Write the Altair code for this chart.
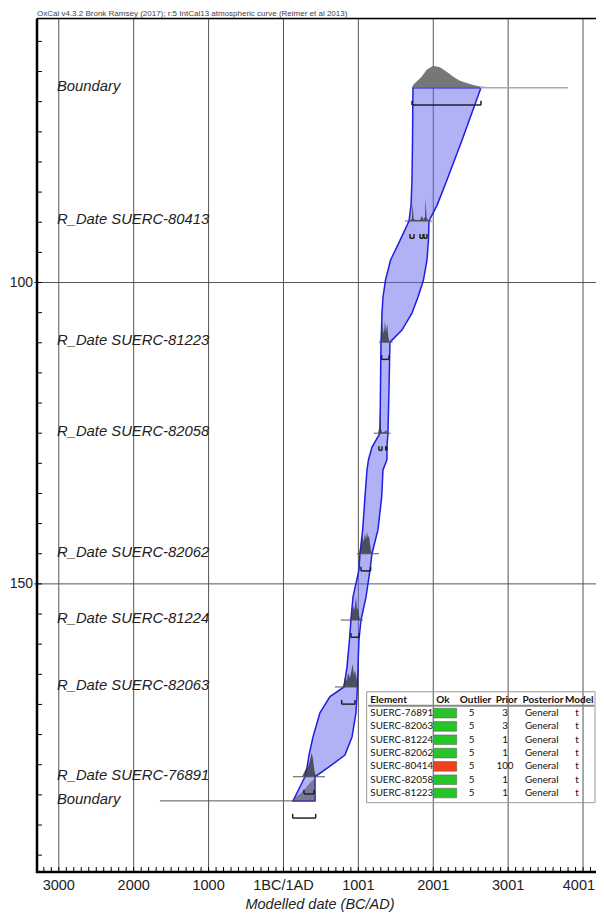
import altair as alt
import pandas as pd

# ---------------- data ----------------
title_text = "OxCal v4.3.2 Bronk Ramsey (2017); r:5 IntCal13 atmospheric curve (Reimer et al 2013)"
x_title = "Modelled date (BC/AD)"

item_labels = ["Boundary", "R_Date SUERC-80413", "R_Date SUERC-81223", "R_Date SUERC-82058",
               "R_Date SUERC-82062", "R_Date SUERC-81224", "R_Date SUERC-82063",
               "R_Date SUERC-76891", "Boundary"]
item_pos = [67.7, 89.8, 109.9, 125.0, 145.0, 156.0, 167.1, 182.0, 186.0]

x_tick_values = [-3000, -2000, -1000, 0, 1000, 2000, 3000, 4000]
x_tick_labels = ["3000", "2000", "1000", "1BC/1AD", "1001", "2001", "3001", "4001"]
y_tick_values = [100, 150]
y_tick_labels = ["100", "150"]

# envelope (blue band) : y position, left edge, right edge (years)
env_y = [67.7, 76.4, 83.0, 87.2, 89.8, 93.0, 96.3, 99.6, 102.4, 105.1, 107.9, 109.9,
         117.8, 125.0, 127.3, 129.4, 131.1, 135.6, 141.0, 145.0, 147.7, 152.2, 156.0,
         159.3, 163.8, 167.1, 168.7, 171.4, 175.4, 178.4, 180.5, 182.0, 186.0]
env_left = [1729, 1723, 1716, 1703, 1676, 1556, 1429, 1362, 1329, 1315, 1309, 1302,
            1295, 1289, 1182, 1135, 1115, 1088, 1058, 1021, 1008, 928, 901,
            881, 848, 808, 621, 487, 394, 341, 314, 287, 127]
env_right = [2637, 2384, 2183, 2050, 1943, 1936, 1916, 1869, 1796, 1716, 1582, 1422,
             1409, 1395, 1382, 1382, 1329, 1311, 1262, 1182, 1155, 1102, 1035,
             1008, 995, 988, 981, 968, 915, 821, 594, 421, 421]

# probability distributions: years and heights (y units) for each item
top_bnd_x = [1716, 1733, 1779, 1845, 1912, 2000, 2090, 2179, 2267, 2357, 2446, 2534, 2624, 2797]
top_bnd_h = [0, 0.5, 1.04, 1.82, 2.99, 3.65, 3.43, 2.65, 1.82, 1.16, 0.78, 0.45, 0.22, 0.05]
d80413_x = [1682, 1713, 1725, 1737, 1769, 1823, 1845, 1869, 1889, 1899, 1909, 1929, 1956]
d80413_h = [0, 0.33, 2.94, 0.33, 0.17, 0.17, 0.83, 0.25, 0.66, 3.81, 0.66, 0.17, 0]
d81223_x = [1302, 1315, 1325, 1335, 1346, 1355, 1369, 1386, 1399, 1415]
d81223_h = [0, 1.33, 3.32, 1.49, 1.99, 3.65, 1.66, 3.15, 1.0, 0]
d82058_x = [1262, 1279, 1289, 1298, 1313, 1342, 1369, 1389]
d82058_h = [0, 1.0, 4.1, 1.0, 0.17, 0.17, 0.5, 0]
d82062_x = [1008, 1035, 1055, 1068, 1088, 1102, 1115, 1128, 1142, 1155, 1168, 1188]
d82062_h = [0, 1.33, 2.99, 1.99, 3.32, 2.32, 3.65, 2.65, 2.99, 1.66, 0.5, 0]
d81224_x = [888, 908, 932, 948, 968, 981, 999, 1015, 1035]
d81224_h = [0, 0.83, 2.32, 1.66, 3.81, 1.99, 1.66, 0.33, 0]
d82063_x = [795, 821, 841, 865, 888, 924, 941, 955, 977, 995]
d82063_h = [0, 1.66, 1.0, 2.32, 1.49, 3.81, 1.99, 2.82, 1.33, 0]
d76891_x = [247, 274, 300, 327, 354, 377, 394, 414, 434]
d76891_h = [0, 0.66, 1.33, 1.66, 2.65, 3.98, 2.99, 1.0, 0]
bot_bnd_x = [127, 220, 287, 354, 394, 421, 434]
bot_bnd_h = [0.33, 1.16, 1.99, 2.99, 3.48, 3.65, 0]

# baseline lines of likelihoods (item index, start, end)
base_item = [1, 2, 3, 4, 5, 6, 7]
base_start = [1622, 1275, 1208, 981, 764, 688, 127]
base_end = [1983, 1458, 1431, 1275, 1062, 981, 554]
tail_top = [2624, 3799]
tail_bottom = [-1649, 127]

# 95% range brackets (item index, start, end)
br_item = [0, 1, 1, 1, 2, 3, 3, 4, 5, 6, 7, 8]
br_start = [1716, 1689, 1823, 1876, 1311, 1275, 1365, 1035, 901, 777, 274, 123]
br_end = [2637, 1743, 1863, 1916, 1409, 1315, 1382, 1164, 1008, 955, 407, 430]

# table
tbl_element = ["SUERC-76891", "SUERC-82063", "SUERC-81224", "SUERC-82062",
               "SUERC-80414", "SUERC-82058", "SUERC-81223"]
tbl_ok = [True, True, True, True, False, True, True]
tbl_outlier = [5, 5, 5, 5, 5, 5, 5]
tbl_prior = [3, 3, 1, 1, 100, 1, 1]
tbl_posterior = ["General", "General", "General", "General", "General", "General", "General"]
tbl_model = ["t", "t", "t", "t", "t", "t", "t"]
tbl_headers = ["Element", "Ok", "Outlier", "Prior", "Posterior", "Model"]

# ---------------- layout / style ----------------
W, H = 559, 853.5
FONT = "Liberation Sans"
TF = "Lato"
xscale = alt.Scale(domain=[-3291, 4173], nice=False, zero=False)
yscale = alt.Scale(domain=[56.2, 197.8], reverse=True, nice=False, zero=False)
BR_OFF, BR_TICK = 2.85, 0.7


def X(f):
    return alt.X(f, scale=xscale, axis=None)


def Y(f):
    return alt.Y(f, scale=yscale, axis=None)


# ---------------- frames ----------------
env_df = pd.DataFrame({"u": env_y, "left": env_left, "right": env_right})


def dist_frame(pairs):
    rows = []
    for idx, xs, hs in pairs:
        for x, h in zip(xs, hs):
            rows.append({"item": idx, "yr": x, "base": item_pos[idx], "top": item_pos[idx] - h})
    return pd.DataFrame(rows)


top_df = dist_frame([(0, top_bnd_x, top_bnd_h)])
bot_df = dist_frame([(8, bot_bnd_x, bot_bnd_h)])
rd_df = dist_frame([(1, d80413_x, d80413_h), (2, d81223_x, d81223_h), (3, d82058_x, d82058_h),
                    (4, d82062_x, d82062_h), (5, d81224_x, d81224_h), (6, d82063_x, d82063_h),
                    (7, d76891_x, d76891_h)])

base_df = pd.DataFrame({"a": base_start, "b": base_end, "u": [item_pos[i] for i in base_item]})
tail_top_df = pd.DataFrame({"a": [tail_top[0]], "b": [tail_top[1]], "u": [item_pos[0]]})
tail_bot_df = pd.DataFrame({"a": [tail_bottom[0]], "b": [tail_bottom[1]], "u": [item_pos[8]]})

br_df = pd.DataFrame({"a": br_start, "b": br_end, "u": [item_pos[i] + BR_OFF for i in br_item]})
br_ticks = pd.DataFrame({"x": br_start + br_end,
                         "u": [item_pos[i] + BR_OFF for i in br_item] * 2})
br_ticks["u2"] = br_ticks["u"] - BR_TICK

lab_df = pd.DataFrame({"label": item_labels, "pos": item_pos})
xt_df = pd.DataFrame({"v": x_tick_values, "lab": x_tick_labels})
yt_df = pd.DataFrame({"v": y_tick_values, "lab": y_tick_labels})
ytick_df = pd.DataFrame({"u": list(range(60, 200, 5))})
xtick_df = pd.DataFrame({"yr": list(range(-3200, 4200, 100))})
one = pd.DataFrame({"k": [0]})

ROW0, ROWSTEP = 171.44, 2.21
tbl_df = pd.DataFrame({"element": tbl_element, "outlier": tbl_outlier, "prior": tbl_prior,
                       "posterior": tbl_posterior, "model": tbl_model,
                       "okcol": ["#26c426" if o else "#f0401c" for o in tbl_ok]})
tbl_df["ru"] = [ROW0 + i * ROWSTEP for i in range(len(tbl_df))]
tbl_df["b0"] = tbl_df["ru"] - 0.8
tbl_df["b1"] = tbl_df["ru"] + 0.8
hdr_df = pd.DataFrame({"h": tbl_headers, "x": [1160, 2130, 2565, 2980, 3465, 3950],
                       "al": ["left", "c", "c", "c", "c", "c"]})

# ---------------- axes drawn as marks ----------------
vgrid = alt.Chart(xt_df).mark_rule(color="#555", strokeWidth=1).encode(
    x=X("v:Q"), y=alt.value(0), y2=alt.value(H))
hgrid = alt.Chart(yt_df).mark_rule(color="#555", strokeWidth=1).encode(
    y=Y("v:Q"), x=alt.value(-3), x2=alt.value(W))
left_dom = alt.Chart(one).mark_rule(color="black", strokeWidth=2.5).encode(
    x=alt.value(0), y=alt.value(0), y2=alt.value(H + 1))
bottom_dom = alt.Chart(one).mark_rule(color="black", strokeWidth=2.5).encode(
    y=alt.value(H), x=alt.value(-1), x2=alt.value(W))
top_frame = alt.Chart(one).mark_rule(color="black", strokeWidth=1.5).encode(
    x=alt.value(0), x2=alt.value(W), y=alt.value(0))
xlabels = alt.Chart(xt_df.iloc[:-1]).mark_text(
    align="center", baseline="middle", font=FONT, fontSize=14.5, color="#222"
).encode(x=X("v:Q"), y=alt.value(H + 14), text="lab:N")
xlabel_last = alt.Chart(xt_df.iloc[-1:]).mark_text(
    align="right", baseline="middle", font=FONT, fontSize=14.5, color="#222", dx=12
).encode(x=X("v:Q"), y=alt.value(H + 14), text="lab:N")
ylabels = alt.Chart(yt_df).mark_text(
    align="right", baseline="middle", font=FONT, fontSize=14, color="#222"
).encode(y=Y("v:Q"), x=alt.value(-4), text="lab:N")
xtitle = alt.Chart(one).mark_text(
    align="center", baseline="middle", font=FONT, fontSize=14.5, fontStyle="italic", color="#222"
).encode(x=alt.value(283), y=alt.value(H + 33), text=alt.value(x_title))
yticks = alt.Chart(ytick_df).mark_rule(color="black", strokeWidth=1).encode(
    y=Y("u:Q"), x=alt.value(0), x2=alt.value(5))
xticks = alt.Chart(xtick_df).mark_rule(color="black", strokeWidth=1).encode(
    x=X("yr:Q"), y=alt.value(H), y2=alt.value(H - 5))
title = alt.Chart(one).mark_text(
    align="left", baseline="alphabetic", font=FONT, fontSize=8, color="#444"
).encode(x=alt.value(0), y=alt.value(-2.5), text=alt.value(title_text))

# ---------------- data layers ----------------
envelope = alt.Chart(env_df).mark_area(
    orient="horizontal", fill="#6464ec", fillOpacity=0.5, stroke="#1f1fe0", strokeWidth=1.5
).encode(y=Y("u:Q"), x=X("left:Q"), x2="right:Q")


def dist_layer(df, color, op):
    return alt.Chart(df).mark_area(color=color, opacity=op).encode(
        x=X("yr:Q"), y=Y("top:Q"), y2="base:Q", detail="item:N")


top_dist = dist_layer(top_df, "#777777", 1.0)
bot_dist = dist_layer(bot_df, "#4a4a55", 0.55)
rd_dist = dist_layer(rd_df, "#34343f", 0.8)


def hline(df, color, width):
    return alt.Chart(df).mark_rule(color=color, strokeWidth=width).encode(
        x=X("a:Q"), x2="b:Q", y=Y("u:Q"))


base_lines = hline(base_df, "#555", 1)
tail_t = hline(tail_top_df, "#aaaaaa", 1.5)
tail_b = hline(tail_bot_df, "#555", 1)
brackets = hline(br_df, "#222", 1.5)
bracket_ticks = alt.Chart(br_ticks).mark_rule(color="#222", strokeWidth=1.5).encode(
    x=X("x:Q"), y=Y("u:Q"), y2="u2:Q")

labels = alt.Chart(lab_df).mark_text(
    align="left", baseline="middle", font=FONT, fontSize=14.8, fontStyle="italic",
    color="#222", dy=-1
).encode(x=alt.value(20), y=Y("pos:Q"), text="label:N")

# ---------------- table ----------------
tbl_box = alt.Chart(one).mark_rect(fillOpacity=0, stroke="#999", strokeWidth=1).encode(
    x=alt.datum(1111, scale=xscale, axis=None), x2=alt.datum(4160),
    y=alt.datum(167.9, scale=yscale, axis=None), y2=alt.datum(186.3))
tbl_hline = alt.Chart(one).mark_rule(color="#888", strokeWidth=2).encode(
    x=alt.datum(1130, scale=xscale, axis=None), x2=alt.datum(4150),
    y=alt.datum(170.23, scale=yscale, axis=None))
hdr_left = alt.Chart(hdr_df[hdr_df["al"] == "left"]).mark_text(
    align="left", baseline="middle", font=TF, fontSize=10, fontWeight="bold", color="#111"
).encode(x=X("x:Q"), y=alt.datum(169.24, scale=yscale, axis=None), text="h:N")
hdr_c = alt.Chart(hdr_df[hdr_df["al"] == "c"]).mark_text(
    align="center", baseline="middle", font=TF, fontSize=10, fontWeight="bold", color="#111"
).encode(x=X("x:Q"), y=alt.datum(169.24, scale=yscale, axis=None), text="h:N")


def tcol(field, xval, align="center"):
    return alt.Chart(tbl_df).mark_text(
        align=align, baseline="middle", font=TF, fontSize=9.8, color="#111"
    ).encode(x=alt.datum(xval, scale=xscale, axis=None), y=Y("ru:Q"), text=f"{field}:N")


col_el = tcol("element", 1160, "left")
col_out = tcol("outlier", 2513)
col_pri = tcol("prior", 2958)
col_post = tcol("posterior", 3448)
col_mod = tcol("model", 3920)
ok_boxes = alt.Chart(tbl_df).mark_rect(stroke="#666", strokeWidth=0.6).encode(
    x=alt.datum(2000, scale=xscale, axis=None), x2=alt.datum(2313),
    y=Y("b0:Q"), y2="b1:Q",
    color=alt.Color("okcol:N", scale=None))

chart = alt.layer(
    vgrid, hgrid, envelope, top_dist, rd_dist, bot_dist, base_lines, tail_t, tail_b,
    brackets, bracket_ticks, labels, yticks, xticks, left_dom, bottom_dom, top_frame,
    xlabels, xlabel_last, ylabels, xtitle, title,
    tbl_box, tbl_hline, hdr_left, hdr_c, col_el, col_out, col_pri, col_post, col_mod, ok_boxes
).properties(
    width=W, height=H,
    padding={"left": 29, "top": 10.5, "right": 0, "bottom": 41},
    autosize=alt.AutoSizeParams(type="none"),
).configure_view(stroke=None).configure(background="white")

chart.save("out.html", embed_options={"renderer": "svg", "actions": False})
